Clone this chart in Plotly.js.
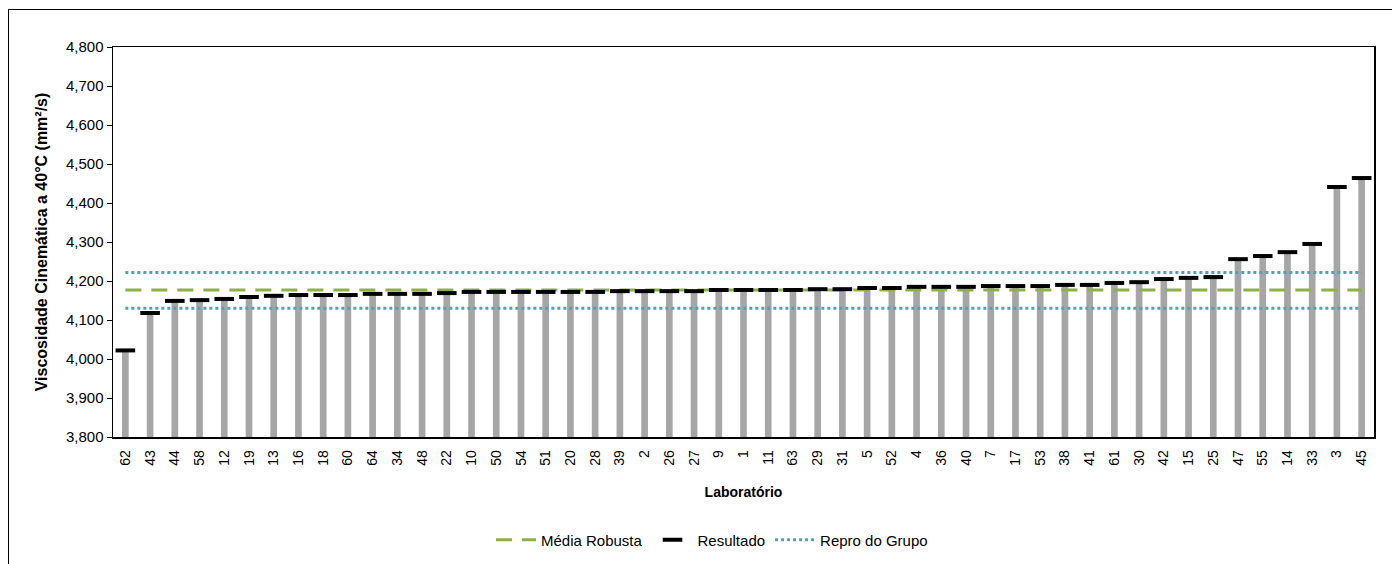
<!DOCTYPE html>
<html>
<head>
<meta charset="utf-8">
<script src="https://cdn.plot.ly/plotly-3.0.1.min.js"></script>
<style>
  html, body { margin: 0; padding: 0; background: #fff; }
  #chart { width: 1392px; height: 564px; position: relative; }
  #frame { position: absolute; left: 8px; top: 9px; width: 1400px; height: 600px;
           border: 1px solid #000; pointer-events: none; box-sizing: border-box; }
</style>
</head>
<body>
<div id="chart"></div>
<div id="frame"></div>
<script>
// ---- data ----
const labs = ["62","43","44","58","12","19","13","16","18","60","64","34","48","22","10","50","54","51","20","28","39","2","26","27","9","1","11","63","29","31","5","52","4","36","40","7","17","53","38","41","61","30","42","15","25","47","55","14","33","3","45"];
const results = [4.022,4.118,4.149,4.151,4.154,4.159,4.162,4.164,4.164,4.164,4.167,4.167,4.167,4.169,4.172,4.172,4.172,4.172,4.172,4.172,4.174,4.174,4.174,4.174,4.177,4.177,4.177,4.177,4.179,4.179,4.182,4.182,4.185,4.185,4.185,4.187,4.187,4.187,4.190,4.190,4.195,4.197,4.205,4.208,4.210,4.256,4.264,4.274,4.295,4.441,4.464];
const robustMean = 4.177;
const reproUpper = 4.222;
const reproLower = 4.130;
const yTickVals = [3.8,3.9,4.0,4.1,4.2,4.3,4.4,4.5,4.6,4.7,4.8];
const yMin = 3.8, yMax = 4.8;

const base = yMin;
const firstLab = labs[0], lastLab = labs[labs.length - 1];

const traces = [
  { type: 'bar', x: labs, y: results.map(v => v - base), base: base,
    width: 0.27, marker: { color: '#a6a6a6' }, showlegend: false, hoverinfo: 'skip' },
  { type: 'scatter', mode: 'lines', name: 'Média Robusta',
    x: [firstLab, lastLab], y: [robustMean, robustMean],
    line: { color: '#8faf4a', width: 3, dash: '16px,10px' } },
  { type: 'scatter', mode: 'markers', name: 'Resultado', x: labs, y: results,
    marker: { symbol: 'line-ew', size: 14, color: '#000', line: { color: '#000', width: 4 } } },
  { type: 'scatter', mode: 'lines', name: 'Repro do Grupo', legendgroup: 'repro',
    x: [firstLab, lastLab], y: [reproUpper, reproUpper],
    line: { color: '#4aa3bd', width: 3, dash: 'dot' } },
  { type: 'scatter', mode: 'lines', name: 'Repro do Grupo', legendgroup: 'repro', showlegend: false,
    x: [firstLab, lastLab], y: [reproLower, reproLower],
    line: { color: '#4aa3bd', width: 3, dash: 'dot' } }
];

const layout = {
  width: 1392, height: 564,
  margin: { l: 113, r: 18, t: 47, b: 127, autoexpand: false },
  paper_bgcolor: '#fff', plot_bgcolor: '#fff',
  separators: ',.',
  font: { family: 'Liberation Sans, Arial, sans-serif', color: '#000', size: 14 },
  barmode: 'overlay',
  showlegend: true,
  legend: { orientation: 'h', x: 0.475, xanchor: 'center',
            yref: 'container', y: 1 - 540 / 564, yanchor: 'middle',
            font: { family: 'Liberation Sans Narrow, Arial Narrow, Liberation Sans, sans-serif', size: 15 },
            traceorder: 'normal', itemwidth: 40 },
  xaxis: {
    type: 'category', categoryorder: 'array', categoryarray: labs,
    range: [-0.5, labs.length - 0.5],
    tickangle: -90, tickfont: { size: 14 }, ticks: 'outside', ticklen: 6, tickcolor: 'rgba(0,0,0,0)',
    showline: true, linecolor: '#000', linewidth: 1.5, mirror: true,
    showgrid: false, zeroline: false, automargin: false,
    title: { text: '<b>Laboratório</b>', font: { size: 14 }, standoff: 22 }
  },
  yaxis: {
    range: [yMin, yMax], tickvals: yTickVals, tickformat: ',.3f',
    ticks: 'outside', ticklen: 5, tickcolor: '#000', tickfont: { size: 15 },
    showline: true, linecolor: '#000', linewidth: 1.5, mirror: true,
    showgrid: false, zeroline: false, automargin: false,
    title: { text: '<b>Viscosidade Cinemática a 40°C (mm²/s)</b>', font: { size: 16 }, standoff: 14 }
  }
};

Plotly.newPlot('chart', traces, layout, { displayModeBar: false, staticPlot: true });
</script>
</body>
</html>
